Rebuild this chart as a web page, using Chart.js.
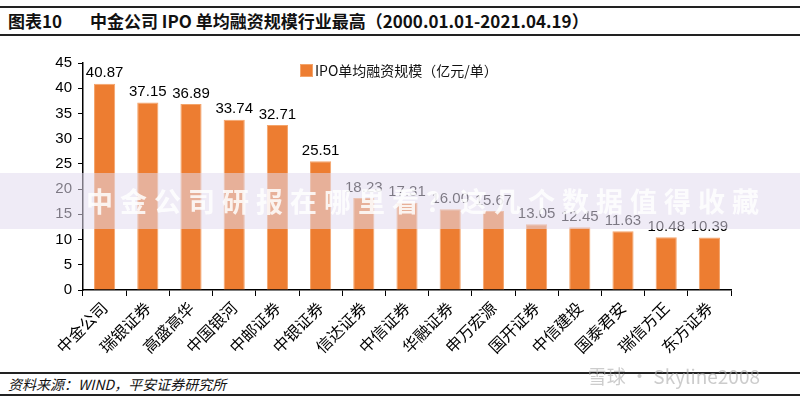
<!DOCTYPE html>
<html lang="zh">
<head>
  <meta charset="UTF-8">
  <title>中金公司 IPO 单均融资规模</title>
  <script src="https://cdn.jsdelivr.net/npm/chart.js"></script>
  <style>
    body {
      margin: 0;
      width: 800px;
      height: 399px;
      background: #fff;
      position: relative;
      overflow: hidden;
      font-family: 'Noto Sans CJK SC', 'Liberation Sans', sans-serif;
    }
    #title {
      position: absolute;
      left: 0; top: 6px;
      width: 800px; height: 26px;
      border-top: 2px solid #222;
      border-bottom: 2px solid #222;
      font-weight: bold;
      font-size: 17px;
      line-height: 26px;
      color: #111;
    }
    #title .num { position: absolute; left: 8px; }
    #title .txt { position: absolute; left: 90px; }
    #wrap {
      position: absolute;
      left: 0; top: 40px;
      width: 800px; height: 330px;
    }
    #legend {
      position: absolute;
      left: 300px; top: 60px;
      font-size: 14px;
      line-height: 20px;
      color: #111;
    }
    #legend i {
      display: inline-block;
      width: 11px; height: 11px;
      background: #ED7D31;
      border: 1px solid #F4A46A;
      margin-right: 2px;
      vertical-align: -1px;
    }
    #band {
      position: absolute;
      left: 0; top: 173px;
      width: 800px; height: 56px;
      background: rgba(225, 218, 238, 0.55);
      color: rgba(255, 255, 255, 0.85);
      font-weight: bold;
      font-size: 27px;
      line-height: 56px;
      letter-spacing: 7px;
      padding-left: 86px;
      box-sizing: border-box;
      pointer-events: none;
    }
    #source {
      position: absolute;
      left: 0; top: 372px;
      width: 800px; height: 20px;
      border-top: 2px solid #222;
      border-bottom: 2px solid #222;
      font-size: 14px;
      font-style: italic;
      line-height: 20px;
      color: #111;
    }
    #source span { position: absolute; left: 8px; }
    #mark {
      position: absolute;
      right: 40px; top: 362px;
      font-size: 19px;
      color: rgba(170, 170, 170, 0.6);
    }
  </style>
</head>
<body>
  <div id="title"><span class="num">图表10</span><span class="txt">中金公司 IPO 单均融资规模行业最高（2000.01.01-2021.04.19）</span></div>
  <div id="wrap"><canvas id="chart" width="800" height="330"></canvas></div>
  <div id="legend"><i></i><span id="legendText"></span></div>
  <div id="band">中金公司研报在哪里看？这几个数据值得收藏</div>
  <div id="source"><span>资料来源：WIND，平安证券研究所</span></div>
  <div id="mark">雪球 · Skyline2008</div>

  <script>
    var brokers = ['中金公司', '瑞银证券', '高盛高华', '中国银河', '中邮证券', '中银证券', '信达证券',
      '中信证券', '华融证券', '申万宏源', '国开证券', '中信建投', '国泰君安', '瑞信方正', '东方证券'];
    var ipoSize = [40.87, 37.15, 36.89, 33.74, 32.71, 25.51, 18.23, 17.31, 16.00, 15.67, 13.05, 12.45, 11.63, 10.48, 10.39];
    var seriesName = 'IPO单均融资规模（亿元/单）';
    var yTicks = [0, 5, 10, 15, 20, 25, 30, 35, 40, 45];

    var numFont = "'Liberation Sans', Arial, sans-serif";
    document.getElementById('legendText').textContent = seriesName;

    // values above the bars
    var barLabels = {
      id: 'barLabels',
      afterDatasetsDraw: function (chart) {
        var c = chart.ctx;
        var meta = chart.getDatasetMeta(0);
        c.save();
        c.font = '15px ' + numFont;
        c.fillStyle = '#000';
        c.textAlign = 'center';
        c.textBaseline = 'bottom';
        meta.data.forEach(function (bar, i) {
          c.fillText(ipoSize[i].toFixed(2), bar.x, bar.y - 3);
        });
        c.restore();
      }
    };

    var ctx = document.getElementById('chart').getContext('2d');
    new Chart(ctx, {
      type: 'bar',
      data: {
        labels: brokers,
        datasets: [{
          label: seriesName,
          data: ipoSize,
          backgroundColor: '#ED7D31',
          borderColor: '#F4A46A',
          borderWidth: 1,
          barPercentage: 0.98,
          categoryPercentage: 0.5
        }]
      },
      options: {
        responsive: false,
        animation: false,
        layout: { padding: { left: 0, right: 69, top: 23, bottom: 0 } },
        plugins: {
          tooltip: { enabled: false },
          legend: { display: false }
        },
        scales: {
          y: {
            min: 0,
            max: 45,
            afterFit: function (s) { s.width = 83; },
            afterBuildTicks: function (s) {
              s.ticks = yTicks.map(function (v) { return { value: v }; });
            },
            border: { color: '#000', width: 1.5 },
            grid: { drawOnChartArea: false, drawTicks: true, tickLength: 5, color: '#000' },
            ticks: { color: '#000', padding: 6, font: { size: 15, family: numFont } }
          },
          x: {
            afterFit: function (s) { s.height = 80; },
            border: { color: '#000', width: 1.5 },
            grid: { offset: true, drawOnChartArea: false, drawTicks: true, tickLength: 6, color: '#000' },
            ticks: {
              color: '#000',
              minRotation: 45,
              maxRotation: 45,
              padding: 2,
              font: { size: 16, family: "'Noto Sans CJK SC', sans-serif" }
            }
          }
        }
      },
      plugins: [barLabels]
    });
  </script>
</body>
</html>
